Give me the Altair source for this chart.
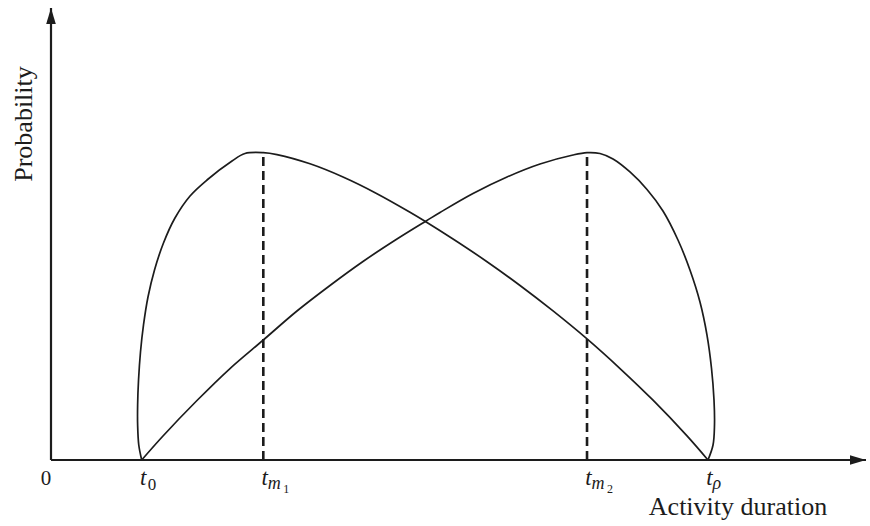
import altair as alt
import pandas as pd

# Characteristic times on the duration axis
t0 = 11.13
tm1 = 26.05
tm2 = 65.77
tp = 80.61
peak = 68.0

# Left-skewed density (mode at tm1)
curve1_x = [11.13, 10.77, 10.63, 10.63, 10.74, 10.98, 11.35, 11.90, 12.70, 13.80,
            15.21, 17.06, 19.14, 22.21, 23.80, 26.05, 27.73, 31.78, 35.83, 39.94,
            44.05, 45.64, 49.33, 53.50, 57.55, 61.60, 65.77, 69.82, 73.87, 78.04,
            80.61]
curve1_y = [0.0, 3.32, 7.74, 12.17, 17.70, 23.89, 29.87, 36.06, 42.04, 48.01,
            53.54, 58.41, 61.95, 66.15, 67.81, 68.0, 67.57, 65.53, 62.61, 58.98,
            54.82, 53.10, 48.89, 43.87, 38.61, 32.98, 26.79, 20.24, 13.23, 5.33,
            0.0]

# Right-skewed density (mode at tm2)
curve2_x = [11.13, 13.74, 17.91, 21.96, 26.05, 30.18, 34.23, 38.28, 42.45, 46.13,
            47.73, 51.78, 55.95, 60.00, 64.05, 65.77, 67.36, 68.96, 71.04, 73.13,
            75.09, 76.93, 78.40, 79.63, 80.49, 81.04, 81.35, 81.41, 81.23, 80.61]
curve2_y = [0.0, 5.31, 13.16, 20.24, 26.55, 32.96, 38.61, 43.92, 48.89, 53.0,
            54.76, 58.96, 62.61, 65.49, 67.48, 68.0, 67.81, 66.59, 63.72, 59.85,
            55.09, 48.67, 42.04, 34.96, 27.65, 20.35, 13.27, 7.74, 3.32, 0.0]

tick_values = [t0, tm1, tm2, tp]
sub_upright = ["0"]
sub_italic = ["m", "m", "ρ"]
subsub = ["1", "2"]

x_title = "Activity duration"
y_title = "Probability"

INK = "#1c1c1c"
SERIF = "Liberation Serif"

xs = alt.Scale(domain=[0, 100], nice=False, zero=False)
ys = alt.Scale(domain=[0, 100], nice=False, zero=False)


def X(field, **kw):
    return alt.X(field, type="quantitative", scale=xs, axis=None, **kw)


def Y(field, **kw):
    return alt.Y(field, type="quantitative", scale=ys, axis=None, **kw)


curves = pd.concat([
    pd.DataFrame({"x": curve1_x, "y": curve1_y, "curve": "left",
                  "i": list(range(len(curve1_x)))}),
    pd.DataFrame({"x": curve2_x, "y": curve2_y, "curve": "right",
                  "i": list(range(len(curve2_x)))}),
], ignore_index=True)

lines = alt.Chart(curves).mark_line(
    interpolate="catmull-rom", stroke=INK, strokeWidth=1.7
).encode(
    x=X("x"),
    y=Y("y"),
    detail=alt.Detail("curve", type="nominal"),
    order=alt.Order("i", type="quantitative"),
)

modes = pd.DataFrame({"x": [tm1, tm2], "y0": [0.0, 0.0], "y1": [peak, peak]})
dashed = alt.Chart(modes).mark_rule(
    stroke=INK, strokeWidth=2.6, strokeDash=[9, 5]
).encode(x=X("x"), y=Y("y0"), y2="y1")

# Axis lines with arrowheads
axes_df = pd.DataFrame({"x0": [0.0, 0.0], "x1": [100.0, 0.0],
                        "y0": [0.0, 0.0], "y1": [0.0, 100.0]})
axis_lines = alt.Chart(axes_df).mark_rule(stroke=INK, strokeWidth=2.2).encode(
    x=X("x0"), x2="x1", y=Y("y0"), y2="y1"
)
x_arrow = alt.Chart(pd.DataFrame({"x": [100.0], "y": [0.0]})).mark_point(
    shape="M 0 0 L -2 -0.6 L -2 0.6 Z", size=256, filled=True, color=INK, opacity=1
).encode(x=X("x"), y=Y("y"))
y_arrow = alt.Chart(pd.DataFrame({"x": [0.0], "y": [100.0]})).mark_point(
    shape="M 0 0 L -0.6 2 L 0.6 2 Z", size=256, filled=True, color=INK, opacity=1
).encode(x=X("x"), y=Y("y"))

# Tick labels: italic t with subscripts
ticks_df = pd.DataFrame({"x": tick_values, "y": [0.0] * len(tick_values),
                         "s": ["t"] * len(tick_values)})
t_main = alt.Chart(ticks_df).mark_text(
    font=SERIF, fontStyle="italic", fontSize=23, color=INK,
    align="center", baseline="alphabetic", dx=1.5, dy=25
).encode(x=X("x"), y=Y("y"), text=alt.Text("s", type="nominal"))

sub0 = alt.Chart(pd.DataFrame({"x": [t0], "y": [0.0], "s": sub_upright})).mark_text(
    font=SERIF, fontSize=17, color=INK, align="left", baseline="alphabetic",
    dx=6, dy=30
).encode(x=X("x"), y=Y("y"), text=alt.Text("s", type="nominal"))

sub_it = alt.Chart(pd.DataFrame({"x": [tm1, tm2, tp], "y": [0.0] * 3,
                                 "s": sub_italic})).mark_text(
    font=SERIF, fontStyle="italic", fontSize=18, color=INK, align="left",
    baseline="alphabetic", dx=4.5, dy=29
).encode(x=X("x"), y=Y("y"), text=alt.Text("s", type="nominal"))

sub_sub = alt.Chart(pd.DataFrame({"x": [tm1, tm2], "y": [0.0] * 2,
                                  "s": subsub})).mark_text(
    font=SERIF, fontSize=12, color=INK, align="left", baseline="alphabetic",
    dx=20, dy=33
).encode(x=X("x"), y=Y("y"), text=alt.Text("s", type="nominal"))

origin = alt.Chart(pd.DataFrame({"x": [0.0], "y": [0.0], "s": ["0"]})).mark_text(
    font=SERIF, fontSize=21, color=INK, align="center", baseline="alphabetic",
    dx=-5, dy=25
).encode(x=X("x"), y=Y("y"), text=alt.Text("s", type="nominal"))

# Axis titles
xt = alt.Chart(pd.DataFrame({"s": [x_title]})).mark_text(
    font=SERIF, fontSize=26, color=INK, align="center", baseline="alphabetic"
).encode(x=alt.value(687), y=alt.value(507), text=alt.Text("s", type="nominal"))

yt = alt.Chart(pd.DataFrame({"s": [y_title]})).mark_text(
    font=SERIF, fontSize=26, color=INK, align="center", baseline="alphabetic",
    angle=270
).encode(x=alt.value(-19), y=alt.value(116), text=alt.Text("s", type="nominal"))

chart = alt.layer(
    dashed, lines, axis_lines, x_arrow, y_arrow,
    t_main, sub0, sub_it, sub_sub, origin, xt, yt
).properties(
    width=815, height=452,
    autosize=alt.AutoSizeParams(type="none"),
    padding={"left": 51, "top": 8, "right": 4, "bottom": 66},
    background="white",
).configure_view(stroke=None)

chart.save("out.html", embed_options={"renderer": "svg", "actions": False})
